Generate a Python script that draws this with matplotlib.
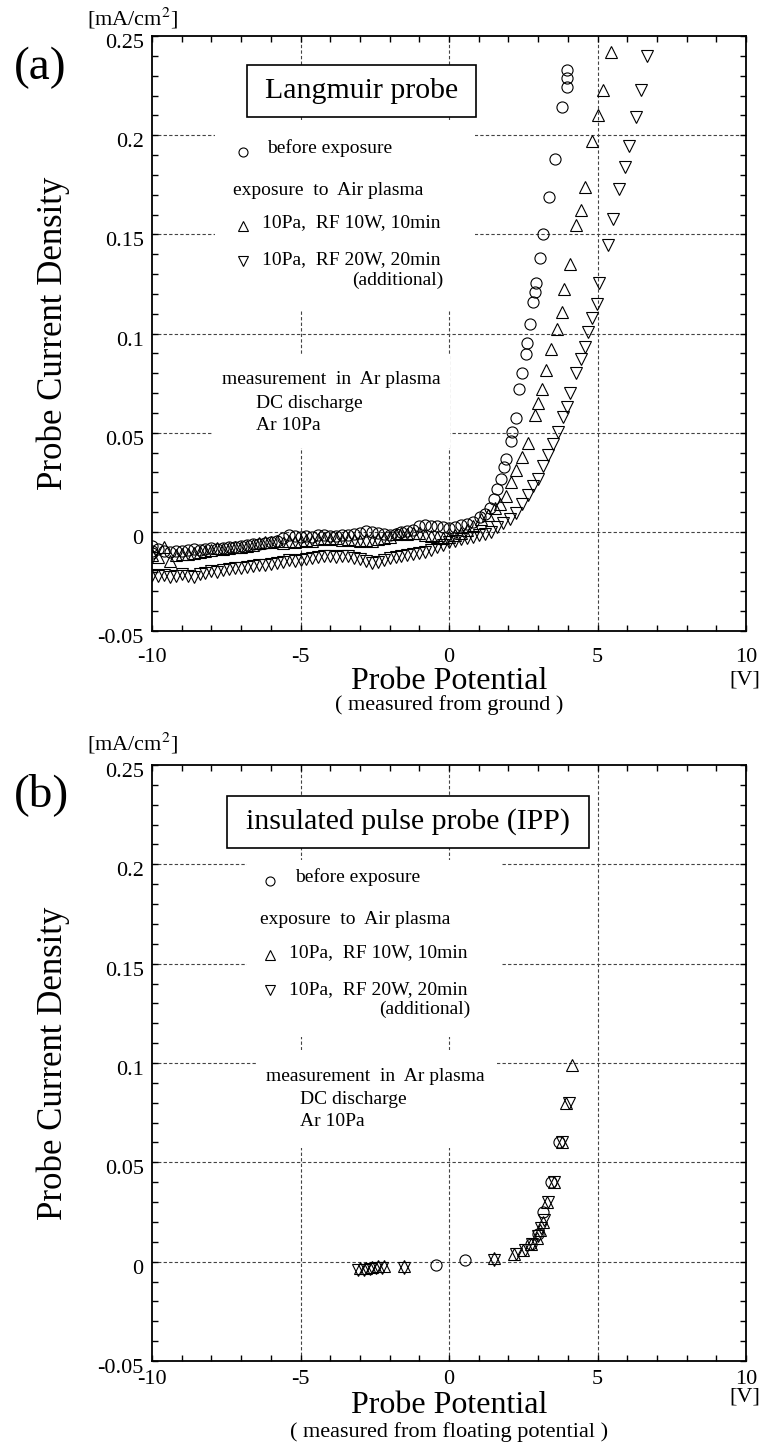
import matplotlib
matplotlib.use("Agg")
import matplotlib.pyplot as plt
import matplotlib.transforms as mtransforms
from matplotlib.patches import Rectangle
from matplotlib.ticker import MultipleLocator

plt.rcParams['font.family'] = ['Liberation Serif', 'DejaVu Serif']
plt.rcParams['mathtext.fontset'] = 'stix'

# ---- panel (a): Langmuir probe, x = probe potential [V], y = current density [mA/cm2]
flat_x = [-10.0, -9.8, -9.6, -9.4, -9.2, -9.0, -8.8, -8.6, -8.4, -8.2, -8.0,
          -7.8, -7.6, -7.4, -7.2, -7.0, -6.8, -6.6, -6.4, -6.2, -6.0,
          -5.8, -5.6, -5.4, -5.2, -5.0, -4.8, -4.6, -4.4, -4.2, -4.0,
          -3.8, -3.6, -3.4, -3.2, -3.0, -2.8, -2.6, -2.4, -2.2, -2.0,
          -1.8, -1.6, -1.4, -1.2, -1.0, -0.8, -0.6, -0.4, -0.2, 0.0,
          0.2, 0.4, 0.6, 0.8]

lp_before_flat = [-0.0095, -0.0088, -0.0098, -0.0100, -0.0094, -0.0096, -0.0090, -0.0087, -0.0092, -0.0085, -0.0083,
                  -0.0088, -0.0080, -0.0078, -0.0074, -0.0070, -0.0064, -0.0062, -0.0060, -0.0058, -0.0050,
                  -0.0045, -0.0030, -0.0015, -0.0022, -0.0025, -0.0020, -0.0024, -0.0018, -0.0016, -0.0019,
                  -0.0022, -0.0014, -0.0018, -0.0010, -0.0006, 0.0004, 0.0000, -0.0004, -0.0012, -0.0016,
                  -0.0010, -0.0002, 0.0004, 0.0012, 0.0030, 0.0036, 0.0028, 0.0032, 0.0024, 0.0020,
                  0.0026, 0.0034, 0.0040, 0.0048]
lp_before_rise_x = [-10.0, -10.0, 1.03, 1.20, 1.37, 1.52, 1.63, 1.74, 1.84, 1.93, 2.08, 2.13, 2.25, 2.36,
                    2.47, 2.58, 2.64, 2.74, 2.83, 2.89, 2.94, 3.08, 3.17, 3.36, 3.56, 3.81,
                    3.96, 3.96, 3.96]
lp_before_rise_y = [-0.0072, -0.0108, 0.0074, 0.0092, 0.0120, 0.0164, 0.0214, 0.0265, 0.0326, 0.0370, 0.0456,
                    0.0506, 0.0575, 0.0720, 0.0800, 0.0895, 0.0950, 0.1050, 0.1160, 0.1210, 0.1255,
                    0.1380, 0.1500, 0.1690, 0.1880, 0.2140, 0.2245, 0.2290, 0.2330]

lp_10w_flat = [-0.0115, -0.0125, -0.0075, -0.0145, -0.0118, -0.0110, -0.0112, -0.0105, -0.0100, -0.0098, -0.0090,
               -0.0082, -0.0088, -0.0080, -0.0078, -0.0075, -0.0070, -0.0066, -0.0058, -0.0050, -0.0052,
               -0.0048, -0.0055, -0.0046, -0.0050, -0.0044, -0.0040, -0.0046, -0.0038, -0.0030, -0.0034,
               -0.0032, -0.0040, -0.0036, -0.0042, -0.0046, -0.0040, -0.0048, -0.0036, -0.0030, -0.0024,
               -0.0012, -0.0006, -0.0010, -0.0004, -0.0008, -0.0014, -0.0020, -0.0026, -0.0030, -0.0026,
               -0.0018, -0.0006, 0.0010, 0.0030]
lp_10w_rise_x = [1.09, 1.31, 1.54, 1.71, 1.91, 2.10, 2.27, 2.47, 2.66, 2.89, 3.00, 3.13, 3.28,
                 3.42, 3.62, 3.81, 3.88, 4.07, 4.29, 4.43, 4.57, 4.83, 5.02, 5.17, 5.45]
lp_10w_rise_y = [0.0063, 0.0085, 0.0120, 0.0140, 0.0180, 0.0254, 0.0310, 0.0380, 0.0450, 0.0590, 0.0650,
                 0.0720, 0.0816, 0.0920, 0.1025, 0.1110, 0.1225, 0.1350, 0.1550, 0.1625, 0.1740,
                 0.1970, 0.2100, 0.2230, 0.2420]

lp_20w_flat = [-0.0215, -0.0222, -0.0218, -0.0225, -0.0220, -0.0212, -0.0220, -0.0226, -0.0214, -0.0205, -0.0198,
               -0.0200, -0.0192, -0.0188, -0.0184, -0.0180, -0.0176, -0.0172, -0.0168, -0.0165, -0.0160,
               -0.0156, -0.0150, -0.0142, -0.0146, -0.0140, -0.0136, -0.0132, -0.0128, -0.0124, -0.0122,
               -0.0126, -0.0120, -0.0124, -0.0130, -0.0136, -0.0148, -0.0158, -0.0150, -0.0140, -0.0132,
               -0.0126, -0.0122, -0.0116, -0.0112, -0.0106, -0.0100, -0.0090, -0.0078, -0.0064, -0.0052,
               -0.0044, -0.0036, -0.0030, -0.0026]
lp_20w_rise_x = [1.00, 1.20, 1.40, 1.60, 1.82, 2.04, 2.27, 2.47, 2.66, 2.83, 3.00, 3.17, 3.34, 3.51,
                 3.67, 3.84, 3.96, 4.07, 4.29, 4.43, 4.58, 4.69, 4.83, 4.97, 5.06, 5.36, 5.53,
                 5.73, 5.92, 6.07, 6.31, 6.45, 6.67]
lp_20w_rise_y = [-0.0015, -0.0010, 0.0000, 0.0025, 0.0045, 0.0065, 0.0097, 0.0140, 0.0187, 0.0230, 0.0265,
                 0.0330, 0.0390, 0.0445, 0.0506, 0.0580, 0.0630, 0.0700, 0.0800, 0.0870, 0.0930,
                 0.1007, 0.1080, 0.1150, 0.1255, 0.1446, 0.1580, 0.1730, 0.1840, 0.1945, 0.2090,
                 0.2230, 0.2400]

# ---- panel (b): insulated pulse probe, x measured from floating potential
ipp_before_x = [-0.45, 0.55, 2.75, 3.00, 3.17, 3.45, 3.70]
ipp_before_y = [-0.0015, 0.0010, 0.0090, 0.0140, 0.0250, 0.0400, 0.0600]
ipp_10w_x = [-3.0, -2.8, -2.6, -2.4, -2.2, -1.5, 1.5, 2.2, 2.5, 2.75, 2.95, 3.05, 3.15, 3.30,
             3.55, 3.80, 3.95, 4.15]
ipp_10w_y = [-0.0030, -0.0030, -0.0028, -0.0024, -0.0022, -0.0020, 0.0020, 0.0040, 0.0060, 0.0090,
             0.0120, 0.0160, 0.0200, 0.0300, 0.0400, 0.0600, 0.0800, 0.0990]
ipp_20w_x = [-3.05, -2.85, -2.65, -2.45, -2.25, -1.5, 1.5, 2.25, 2.55, 2.80, 3.00, 3.10, 3.20,
             3.35, 3.55, 3.80, 4.05]
ipp_20w_y = [-0.0040, -0.0040, -0.0038, -0.0034, -0.0030, -0.0030, 0.0010, 0.0040, 0.0060, 0.0090,
             0.0130, 0.0170, 0.0210, 0.0300, 0.0400, 0.0600, 0.0800]

legend_lines = ["before exposure", "exposure  to  Air plasma",
                "10Pa,  RF 10W, 10min", "10Pa,  RF 20W, 20min", "(additional)"]
cond_lines = ["measurement  in  Ar plasma", "DC discharge", "Ar 10Pa"]

fig = plt.figure(figsize=(7.62, 14.5), dpi=100)
ax_a = fig.add_axes([0.1995, 0.5648, 0.7795, 0.4103])
ax_b = fig.add_axes([0.1995, 0.0614, 0.7795, 0.4110])

mk = dict(linestyle='none', mfc='none', mec='black', mew=0.8)


def setup(ax, xpad):
    ax.set_xlim(-10, 10)
    ax.set_ylim(-0.05, 0.25)
    ax.xaxis.set_minor_locator(MultipleLocator(1))
    ax.yaxis.set_minor_locator(MultipleLocator(0.01))
    ax.set_xticks([-10, -5, 0, 5, 10])
    ax.set_xticklabels(['-10', '-5', '0', '5', '10'])
    ax.set_yticks([-0.05, 0, 0.05, 0.1, 0.15, 0.2, 0.25])
    ax.set_yticklabels(['-0.05', '0', '0.05', '0.1', '0.15', '0.2', '0.25'])
    ax.tick_params(which='both', direction='in', top=True, right=True, width=1.0)
    ax.tick_params(which='major', length=4.5, labelsize=16)
    ax.tick_params(which='minor', length=4)
    ax.tick_params(axis='x', pad=xpad)
    ax.tick_params(axis='y', pad=6)
    # y labels sit a little below their ticks in the original
    shift = mtransforms.ScaledTranslation(0, -5 / 100, fig.dpi_scale_trans)
    for lab in ax.get_yticklabels():
        lab.set_transform(lab.get_transform() + shift)
    for s in ax.spines.values():
        s.set_linewidth(1.3)
    for gx in [-5, 0, 5]:
        ax.axvline(gx, color='#444444', lw=0.8, ls=(0, (3, 2)), zorder=1)
    for gy in [0, 0.05, 0.1, 0.15, 0.2]:
        ax.axhline(gy, color='#444444', lw=0.8, ls=(0, (3, 2)), zorder=1)


def white(ax, x0, x1, y0, y1):
    ax.add_patch(Rectangle((x0, y0), x1 - x0, y1 - y0, transform=ax.transAxes,
                           facecolor='white', edgecolor='none', zorder=2))


def notes(ax, dx, leg_box, cond_box, cond_pos, title, title_box):
    white(ax, *leg_box)
    white(ax, *cond_box)
    bx0, bx1, by0, by1 = title_box
    ax.add_patch(Rectangle((bx0, by0), bx1 - bx0, by1 - by0, transform=ax.transAxes,
                           facecolor='white', edgecolor='black', lw=1.2, zorder=3))
    ax.text((bx0 + bx1) / 2, (by0 + by1) / 2, title, transform=ax.transAxes,
            ha='center', va='center', fontsize=21.5, zorder=4)
    tr = ax.transAxes
    ax.plot([0.153 + dx], [0.805], 'o', ms=6.5, transform=tr, **mk, zorder=4)
    ax.text(0.194 + dx, 0.812, legend_lines[0], transform=tr, fontsize=14, va='center', zorder=4)
    ax.text(0.136 + dx, 0.741, legend_lines[1], transform=tr, fontsize=14, va='center', zorder=4)
    ax.plot([0.153 + dx], [0.681], '^', ms=7, transform=tr, **mk, zorder=4)
    ax.text(0.185 + dx, 0.686, legend_lines[2], transform=tr, fontsize=14, va='center', zorder=4)
    ax.plot([0.153 + dx], [0.622], 'v', ms=7, transform=tr, **mk, zorder=4)
    ax.text(0.185 + dx, 0.624, legend_lines[3], transform=tr, fontsize=14, va='center', zorder=4)
    ax.text(0.490 + dx, 0.590, legend_lines[4], transform=tr, fontsize=14, va='center', ha='right', zorder=4)
    cx, cy = cond_pos
    ax.text(cx, cy, cond_lines[0], transform=tr, fontsize=14, va='center', zorder=4)
    ax.text(cx + 0.057, cy - 0.039, cond_lines[1], transform=tr, fontsize=14, va='center', zorder=4)
    ax.text(cx + 0.057, cy - 0.077, cond_lines[2], transform=tr, fontsize=14, va='center', zorder=4)


# panel (a)
setup(ax_a, 12)
notes(ax_a, 0.0, (0.106, 0.544, 0.539, 0.859), (0.103, 0.502, 0.308, 0.464),
      (0.118, 0.422), "Langmuir probe", (0.160, 0.545, 0.864, 0.951))
ax_a.plot(flat_x, lp_before_flat, 'o', ms=8, **mk, zorder=5)
ax_a.plot(lp_before_rise_x, lp_before_rise_y, 'o', ms=8, **mk, zorder=5)
ax_a.plot(flat_x, lp_10w_flat, '^', ms=8.5, **mk, zorder=5)
ax_a.plot(lp_10w_rise_x, lp_10w_rise_y, '^', ms=8.5, **mk, zorder=5)
ax_a.plot(flat_x, lp_20w_flat, 'v', ms=8.5, **mk, zorder=5)
ax_a.plot(lp_20w_rise_x, lp_20w_rise_y, 'v', ms=8.5, **mk, zorder=5)

# panel (b)
setup(ax_b, 6.5)
notes(ax_b, 0.046, (0.160, 0.589, 0.544, 0.841), (0.177, 0.581, 0.357, 0.522),
      (0.192, 0.478), "insulated pulse probe (IPP)", (0.126, 0.736, 0.861, 0.948))
ax_b.plot(ipp_before_x, ipp_before_y, 'o', ms=8, **mk, zorder=5)
ax_b.plot(ipp_10w_x, ipp_10w_y, '^', ms=8.5, **mk, zorder=5)
ax_b.plot(ipp_20w_x, ipp_20w_y, 'v', ms=8.5, **mk, zorder=5)

for ax in (ax_a, ax_b):
    ax.set_ylabel("Probe Current Density", fontsize=25)
    ax.yaxis.set_label_coords(-0.138, 0.5)

# figure-level labels
fig.text(0.0525, 0.953, "(a)", fontsize=34, ha='center', va='center')
fig.text(0.055, 0.452, "(b)", fontsize=34, ha='center', va='center')
fig.text(0.114, 0.9875, r"[mA/cm$^2$]", fontsize=16, va='center')
fig.text(0.114, 0.4875, r"[mA/cm$^2$]", fontsize=16, va='center')
fig.text(0.978, 0.531, "[V]", fontsize=16, ha='center', va='center')
fig.text(0.978, 0.0366, "[V]", fontsize=16, ha='center', va='center')
fig.text(0.589, 0.5297, "Probe Potential", fontsize=23, ha='center', va='center')
fig.text(0.589, 0.031, "Probe Potential", fontsize=23, ha='center', va='center')
fig.text(0.589, 0.5138, "( measured from ground )", fontsize=16, ha='center', va='center')
fig.text(0.589, 0.0124, "( measured from floating potential )", fontsize=16, ha='center', va='center')

fig.savefig("out.png", dpi=100)
